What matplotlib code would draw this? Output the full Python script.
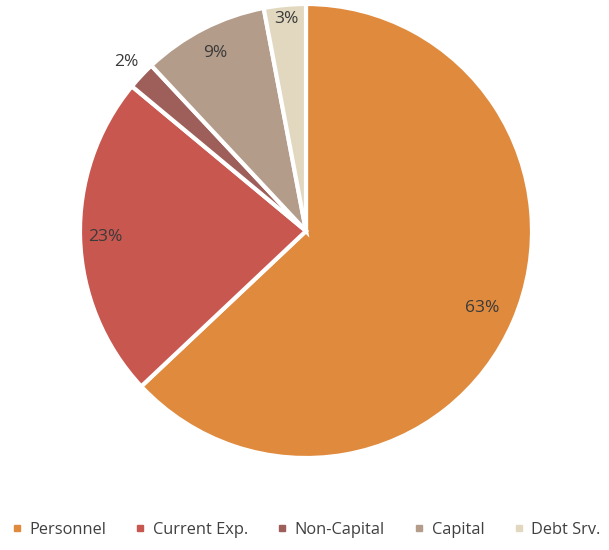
import numpy as np
import matplotlib.pyplot as plt
from matplotlib.lines import Line2D

categories = ["Personnel", "Current Exp.", "Non-Capital", "Capital", "Debt Srv."]
shares = [63, 23, 2, 9, 3]
colors = ["#E08A3E", "#C8574F", "#9E5F5A", "#B49C8A", "#E2D8C0"]
label_dist = [0.85, 0.89, 1.09, 0.88, 0.94]

plt.rcParams['font.family'] = ['Open Sans', 'DejaVu Sans']

fig = plt.figure(figsize=(6.09, 5.5), dpi=100)
ax = fig.add_axes([80 / 609, (550 - 458) / 550, 452 / 609, 454 / 550])

wedges, _ = ax.pie(shares, colors=colors, startangle=90, counterclock=False,
                   radius=1, wedgeprops=dict(edgecolor="white", linewidth=3))

for w, v, d in zip(wedges, shares, label_dist):
    ang = np.deg2rad((w.theta1 + w.theta2) / 2)
    ax.text(d * np.cos(ang), d * np.sin(ang), f"{v}%", ha="center", va="center",
            fontsize=12.5, color="#3a3a3a")

ax.set_xlim(-1, 1)
ax.set_ylim(-1, 1)
ax.set_aspect("auto")
ax.axis("off")

handles = [Line2D([0], [0], marker="s", linestyle="", markersize=5,
                  markerfacecolor=c, markeredgecolor=c) for c in colors]
fig.legend(handles, categories, loc="center", bbox_to_anchor=(0.5, 1 - 530 / 550),
           ncol=5, frameon=False, fontsize=11.8, handletextpad=0.25,
           columnspacing=1.6, labelcolor="#404040", handlelength=1.0,
           borderpad=0.1, borderaxespad=0)

fig.savefig("out.png", dpi=100)
